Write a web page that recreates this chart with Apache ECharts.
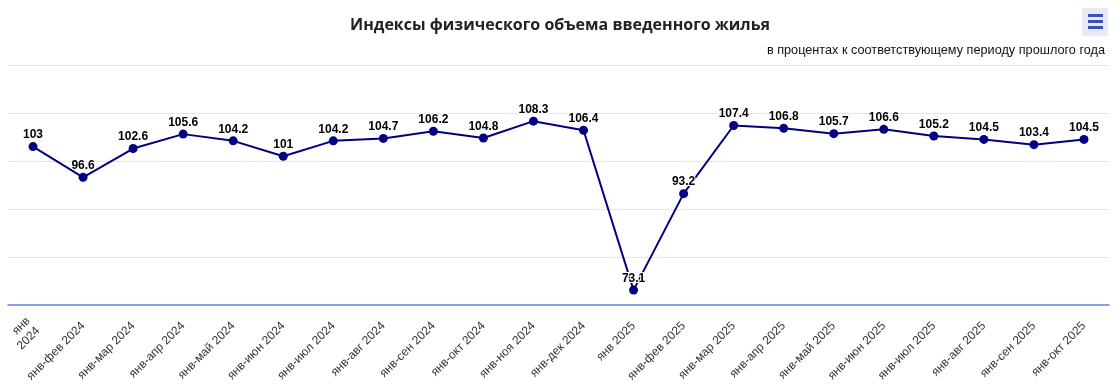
<!DOCTYPE html>
<html><head><meta charset="utf-8">
<script src="https://cdn.jsdelivr.net/npm/echarts@6/dist/echarts.min.js"></script>
<style>html,body{margin:0;padding:0;background:#fff}#c{width:1120px;height:387px}</style>
</head><body><div id="c"></div>
<script>
const titleText = 'Индексы физического объема введенного жилья';
const subtitleText = 'в процентах к соответствующему периоду прошлого года';
const categories = ['янв\n2024','янв-фев 2024','янв-мар 2024','янв-апр 2024','янв-май 2024','янв-июн 2024','янв-июл 2024','янв-авг 2024','янв-сен 2024','янв-окт 2024','янв-ноя 2024','янв-дек 2024','янв 2025','янв-фев 2025','янв-мар 2025','янв-апр 2025','янв-май 2025','янв-июн 2025','янв-июл 2025','янв-авг 2025','янв-сен 2025','янв-окт 2025'];
const values = [103,96.6,102.6,105.6,104.2,101,104.2,104.7,106.2,104.8,108.3,106.4,73.1,93.2,107.4,106.8,105.7,106.6,105.2,104.5,103.4,104.5];

const chart = echarts.init(document.getElementById('c'), null, {renderer:'canvas'});
chart.setOption({
  animation:false,
  backgroundColor:'#fff',
  title:[
    {text:titleText,left:'center',top:12,textStyle:{fontFamily:'Open Sans',fontWeight:'bold',fontSize:16,color:'#222'}},
    {text:subtitleText,right:10,top:39,textStyle:{fontFamily:'Liberation Sans',fontWeight:'normal',fontSize:12.7,color:'#111'}}
  ],
  graphic:[
    {type:'rect',shape:{x:1082,y:8,width:26,height:28,r:2},style:{fill:'#e6e9f6'}},
    {type:'rect',shape:{x:1088,y:14,width:15,height:3},style:{fill:'#3b4fb8'}},
    {type:'rect',shape:{x:1088,y:20,width:15,height:3},style:{fill:'#3b4fb8'}},
    {type:'rect',shape:{x:1088,y:26,width:15,height:3},style:{fill:'#3b4fb8'}}
  ],
  grid:{left:8,right:11,top:65,bottom:82,containLabel:false},
  xAxis:{
    type:'category',data:categories,boundaryGap:true,z:5,
    axisLine:{show:true,onZero:false,lineStyle:{color:'#6384cc',width:1.5}},
    axisTick:{show:false},
    axisLabel:{rotate:45,interval:0,margin:19,fontFamily:'Liberation Sans',fontSize:12,color:'#333',lineHeight:14}
  },
  yAxis:{
    type:'value',min:70,max:120,interval:10,
    axisLabel:{show:false},axisLine:{show:false},axisTick:{show:false},
    splitLine:{show:true,showMinLine:false,lineStyle:{color:'#e6e6e6',width:1}}
  },
  series:[{
    type:'line',data:values,
    lineStyle:{color:'#000080',width:2},
    itemStyle:{color:'#000080'},
    symbol:'circle',symbolSize:9,
    label:{show:true,position:'top',distance:1,fontFamily:'Liberation Sans',fontWeight:'bold',fontSize:12,color:'#000',textBorderColor:'#fff',textBorderWidth:2}
  }]
});
</script></body></html>
